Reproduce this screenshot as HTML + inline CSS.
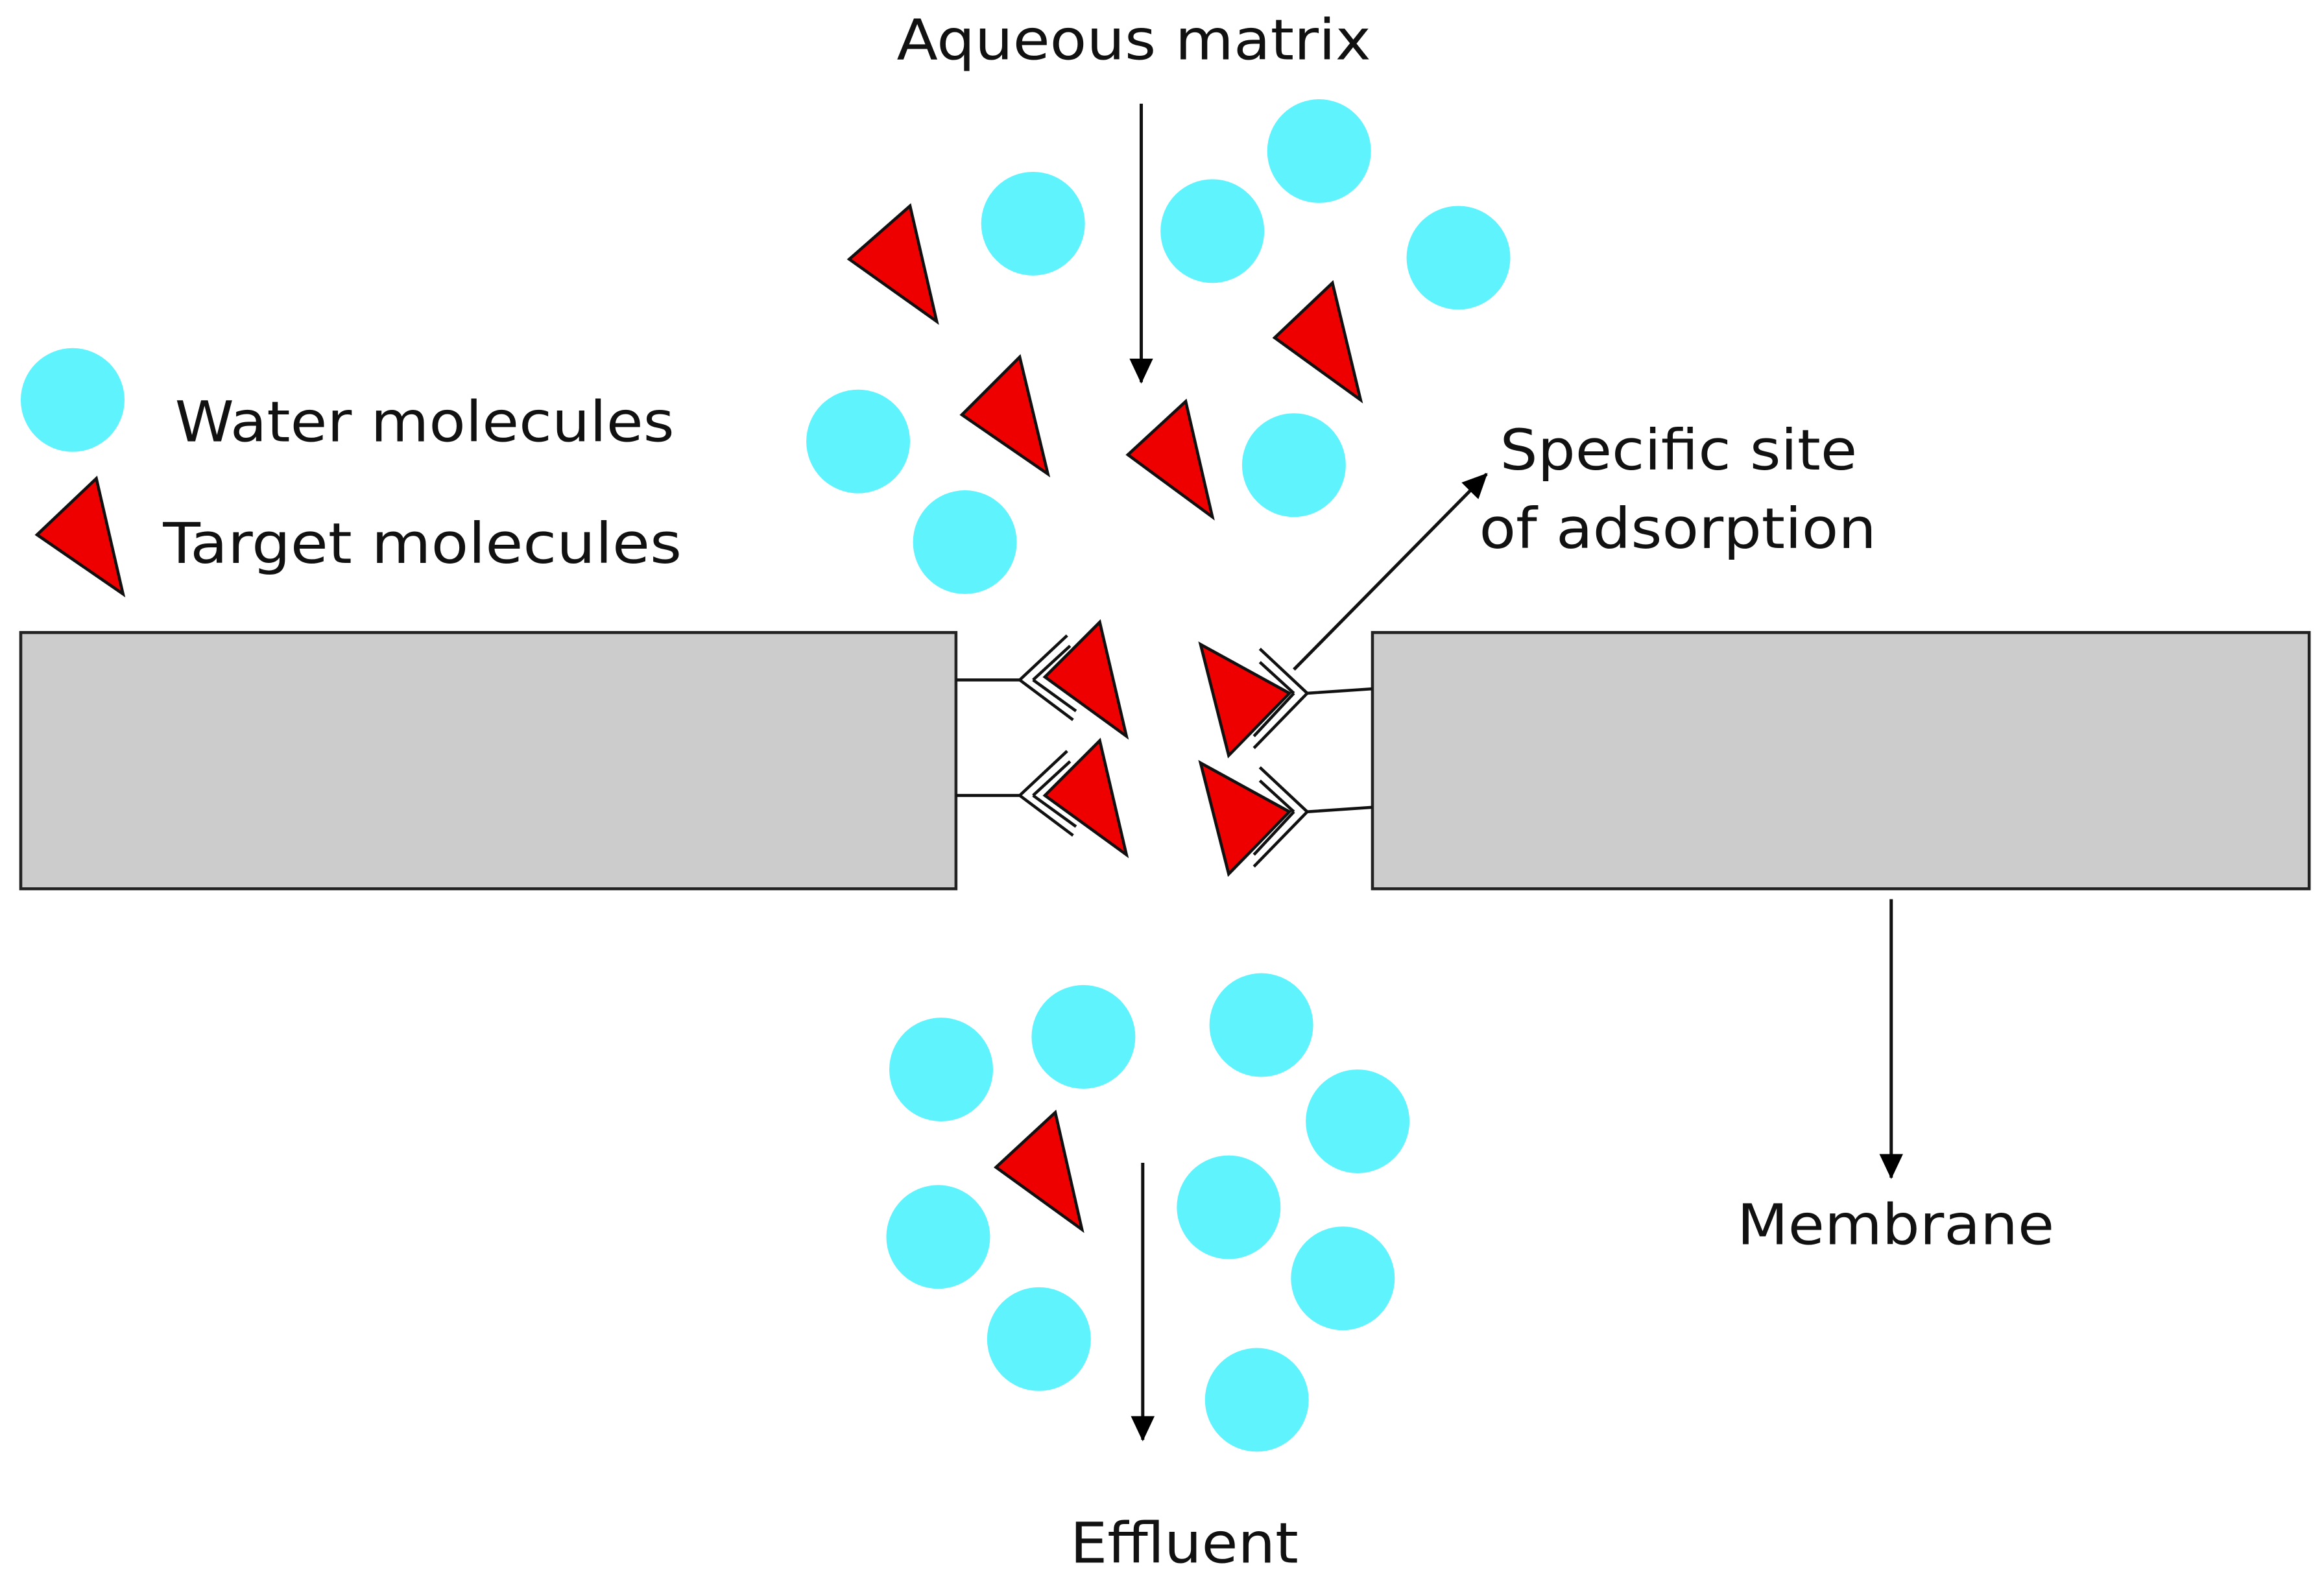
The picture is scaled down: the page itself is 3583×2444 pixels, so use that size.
<!DOCTYPE html>
<html><head><meta charset="utf-8"><style>
html,body{margin:0;padding:0;background:#fff;}
svg{display:block;}
text{font-family:"DejaVu Sans","Liberation Sans",sans-serif;font-size:38px;fill:#111;}
</style></head><body>
<svg width="3583" height="2444" viewBox="0 0 1568 1070" preserveAspectRatio="none">
<defs>
<marker id="b" markerWidth="20" markerHeight="20" refX="16" refY="8" orient="auto" markerUnits="userSpaceOnUse"><path d="M0,0 L17,8 L0,16 z" fill="#000"/></marker></defs>
<rect x="14" y="427" width="631" height="173" fill="#cccccc" stroke="#222" stroke-width="2"/>
<rect x="926" y="427" width="632" height="173" fill="#cccccc" stroke="#222" stroke-width="2"/>
<g fill="#5ef3fd">
<circle cx="697" cy="151" r="35"/><circle cx="818" cy="156" r="35"/><circle cx="890" cy="102" r="35"/><circle cx="984" cy="174" r="35"/>
<circle cx="579" cy="298" r="35"/><circle cx="651" cy="366" r="35"/><circle cx="873" cy="314" r="35"/><circle cx="49" cy="270" r="35"/>
<circle cx="635" cy="722" r="35"/><circle cx="731" cy="700" r="35"/><circle cx="851" cy="692" r="35"/><circle cx="916" cy="757" r="35"/>
<circle cx="633" cy="835" r="35"/><circle cx="829" cy="815" r="35"/><circle cx="906" cy="863" r="35"/><circle cx="701" cy="904" r="35"/><circle cx="848" cy="945" r="35"/>
</g>
<g fill="#ee0000" stroke="#111" stroke-width="2" stroke-linejoin="miter">
<polygon points="573,175 614,139 632,217"/><polygon points="649,280 688,241 707,320"/>
<polygon points="761,307 800,271 818,349"/><polygon points="860,228 899,191 918,270"/>
<polygon points="25,361 65,323 83,401"/><polygon points="672,788 712,751 730,830"/>
<polygon points="705,457 742,420 760,497"/><polygon points="705,537 742,500 760,577"/>
<polygon points="810,435 870,468 829,510"/><polygon points="810,515 870,548 829,590"/>
</g>
<g stroke="#111" stroke-width="2" fill="none">
<path d="M645,459 H688 M688,459 L720,429 M688,459 L724,486 M697,459 L722,436 M697,459 L726,480"/>
<path d="M645,537 H688 M688,537 L720,507 M688,537 L724,564 M697,537 L722,514 M697,537 L726,558"/>
<path d="M926,465 L882,468 M882,468 L850,438 M882,468 L846,505 M873,468 L850,447 M873,468 L846,497"/>
<path d="M926,545 L882,548 M882,548 L850,518 M882,548 L846,585 M873,548 L850,527 M873,548 L846,577"/>
</g>
<g stroke="#111" stroke-width="2.2">
<line x1="770" y1="70" x2="770" y2="258" marker-end="url(#b)"/>
<line x1="771" y1="785" x2="771" y2="972" marker-end="url(#b)"/>
<line x1="1276" y1="607" x2="1276" y2="795" marker-end="url(#b)"/>
<line x1="873" y1="452" x2="1003" y2="320" marker-end="url(#b)"/>
</g>
<text x="605" y="40" textLength="320" lengthAdjust="spacingAndGlyphs">Aqueous matrix</text>
<text x="118" y="298" textLength="337" lengthAdjust="spacingAndGlyphs">Water molecules</text>
<text x="110" y="380" textLength="350" lengthAdjust="spacingAndGlyphs">Target molecules</text>
<text x="1012" y="317" textLength="241" lengthAdjust="spacingAndGlyphs">Specific site</text>
<text x="998" y="370" textLength="268" lengthAdjust="spacingAndGlyphs">of adsorption</text>
<text x="1172" y="840" textLength="214" lengthAdjust="spacingAndGlyphs">Membrane</text>
<text x="722" y="1055" textLength="154" lengthAdjust="spacingAndGlyphs">Effluent</text>
</svg>
</body></html>
